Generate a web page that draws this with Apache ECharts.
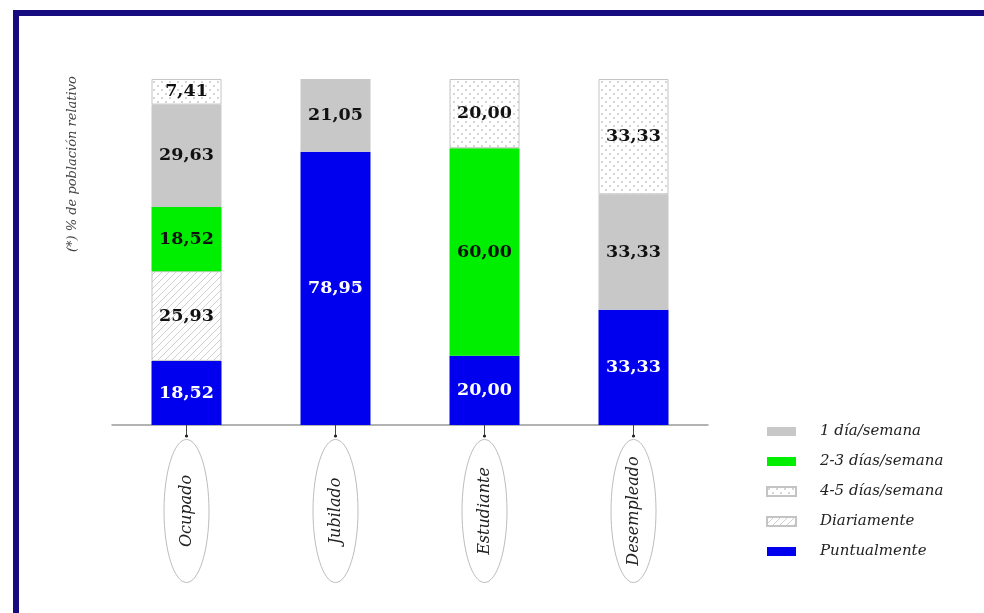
<!DOCTYPE html>
<html>
<head>
<meta charset="utf-8">
<script src="https://cdn.jsdelivr.net/npm/echarts@6/dist/echarts.min.js"></script>
<style>html,body{margin:0;padding:0;background:#fff;}#c{width:984px;height:613px;}</style>
</head>
<body>
<div id="c"></div>
<script>
const categories = ['Ocupado', 'Jubilado', 'Estudiante', 'Desempleado'];
const puntualmente = [18.52, 78.95, 20.00, 33.33];
const diariamente = [25.93, null, null, null];
const dias23 = [18.52, null, 60.00, null];
const dia1 = [29.63, 21.05, null, 33.33];
const dias45 = [7.41, null, 20.00, 33.33];
const legendOrder = ['1 día/semana', '2-3 días/semana', '4-5 días/semana', 'Diariamente', 'Puntualmente'];
const yAxisTitle = '(*) % de población relativo';

function dotPattern() {
  const c = document.createElement('canvas'); c.width = 8; c.height = 8;
  const g = c.getContext('2d');
  g.fillStyle = '#ffffff'; g.fillRect(0, 0, 8, 8);
  g.fillStyle = '#c2c2c2';
  g.beginPath(); g.arc(2, 2, 0.9, 0, Math.PI * 2); g.fill();
  g.beginPath(); g.arc(6, 6, 0.9, 0, Math.PI * 2); g.fill();
  return { image: c, repeat: 'repeat' };
}
function hatchPattern() {
  const c = document.createElement('canvas'); c.width = 7; c.height = 7;
  const g = c.getContext('2d');
  g.fillStyle = '#ffffff'; g.fillRect(0, 0, 7, 7);
  g.strokeStyle = '#cfcfcf'; g.lineWidth = 1;
  g.beginPath();
  g.moveTo(-1, 8); g.lineTo(8, -1);
  g.moveTo(-1, 1); g.lineTo(1, -1);
  g.moveTo(6, 8); g.lineTo(8, 6);
  g.stroke();
  return { image: c, repeat: 'repeat' };
}

const fmt = p => p.value == null ? '' : p.value.toFixed(2).replace('.', ',');
const labelBase = { show: true, position: 'inside', formatter: fmt, fontFamily: 'DejaVu Serif', fontWeight: 'bold', fontSize: 17.5 };

function bar(name, data, color, labelColor, border) {
  return {
    name, type: 'bar', stack: 'total', data, barWidth: 70,
    itemStyle: { color, borderColor: border || color, borderWidth: border ? 1 : 0 },
    label: Object.assign({}, labelBase, { color: labelColor }),
    emphasis: { disabled: true }
  };
}

const chart = echarts.init(document.getElementById('c'), null, { renderer: 'canvas' });
chart.setOption({
  backgroundColor: '#ffffff',
  animation: false,
  grid: { left: 112, right: 276, top: 79, bottom: 188 },
  legend: {
    orient: 'vertical', left: 766, top: 424, padding: 0,
    icon: 'rect',
    itemWidth: 29, itemHeight: 9, itemGap: 15,
    data: legendOrder,
    textStyle: { fontFamily: 'DejaVu Serif', fontStyle: 'italic', fontSize: 15, color: '#222', padding: [0, 0, 0, 19] }
  },
  xAxis: {
    type: 'category', data: categories,
    axisLine: { lineStyle: { color: '#9a9a9a', width: 1.5 } },
    axisTick: { show: true, alignWithLabel: true, length: 11, lineStyle: { color: '#444', width: 1 } },
    axisLabel: {
      interval: 0, rotate: 90, align: 'center', verticalAlign: 'middle', margin: 86,
      fontFamily: 'DejaVu Serif', fontStyle: 'italic', fontSize: 16, color: '#222'
    }
  },
  yAxis: {
    type: 'value', min: 0, max: 100,
    axisLine: { show: false }, axisTick: { show: false }, axisLabel: { show: false }, splitLine: { show: false },
    name: yAxisTitle, nameLocation: 'middle', nameGap: 33,
    nameTextStyle: { align: 'left', fontFamily: 'DejaVu Serif', fontStyle: 'italic', fontSize: 13, color: '#444' }
  },
  graphic: [
    { type: 'rect', shape: { x: 13, y: 10, width: 6, height: 603 }, style: { fill: '#170b80' }, silent: true },
    { type: 'rect', shape: { x: 13, y: 10, width: 971, height: 6 }, style: { fill: '#170b80' }, silent: true }
  ],
  series: [
    bar('Puntualmente', puntualmente, '#0000ee', '#ffffff'),
    bar('Diariamente', diariamente, hatchPattern(), '#111111', '#c4c4c4'),
    bar('2-3 días/semana', dias23, '#00ee00', '#111111'),
    bar('1 día/semana', dia1, '#c8c8c8', '#111111'),
    bar('4-5 días/semana', dias45, dotPattern(), '#111111', '#c4c4c4'),
    {
      type: 'custom', silent: true, clip: false, z: 1,
      data: categories.map((c, i) => [i]), encode: { x: 0 },
      renderItem: function (params, api) {
        const p = api.coord([api.value(0), 0]);
        return {
          type: 'group', children: [
            { type: 'ellipse', shape: { cx: p[0], cy: p[1] + 86, rx: 22.5, ry: 71.5 }, style: { fill: 'none', stroke: '#bdbdbd', lineWidth: 1 } },
            { type: 'circle', shape: { cx: p[0], cy: p[1] + 11, r: 1.6 }, style: { fill: '#222' } }
          ]
        };
      }
    }
  ]
});
</script>
</body>
</html>
